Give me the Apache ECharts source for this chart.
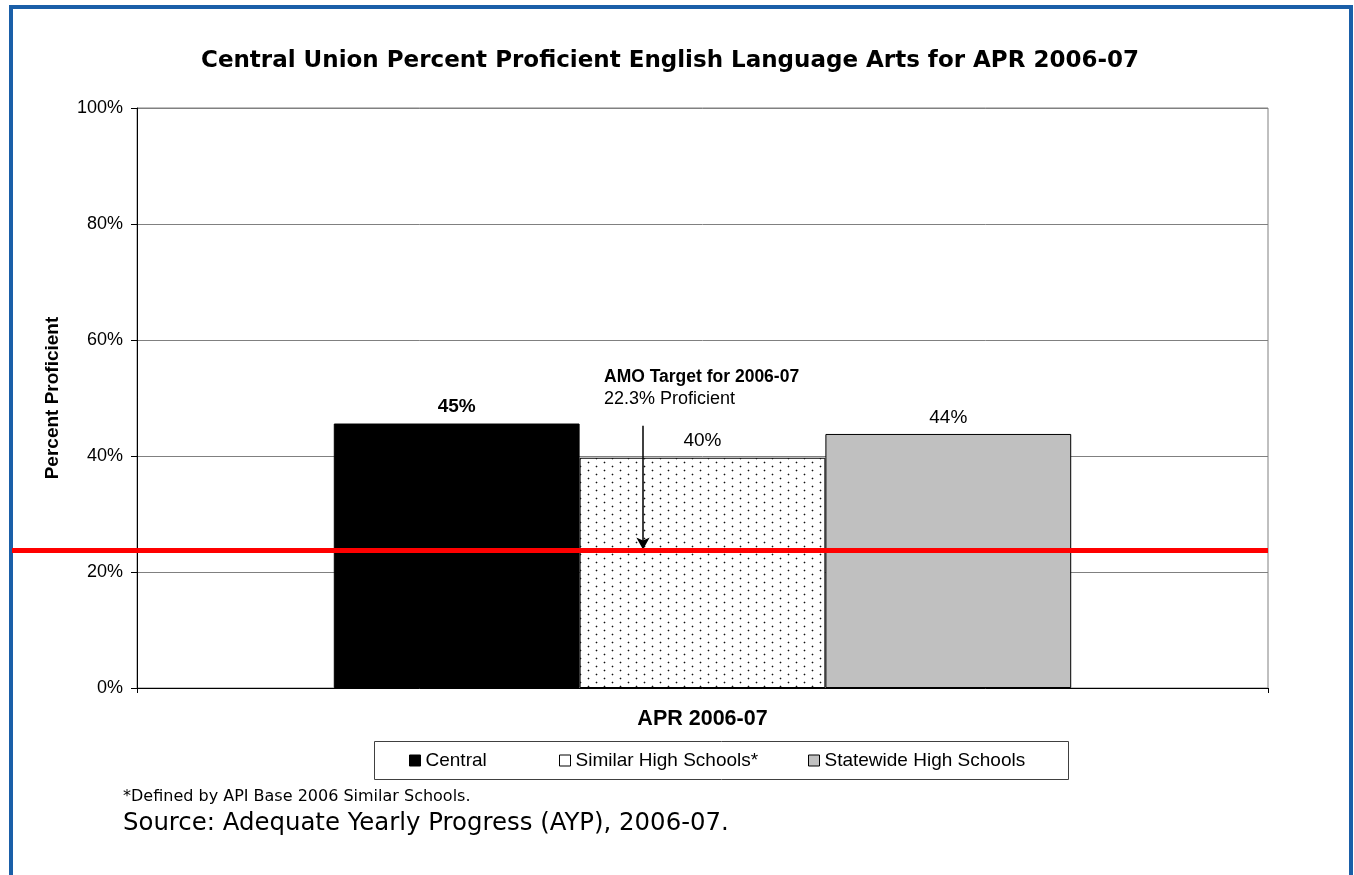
<!DOCTYPE html>
<html>
<head>
<meta charset="utf-8">
<script src="https://cdn.jsdelivr.net/npm/echarts@6/dist/echarts.min.js"></script>
<style>
html,body{margin:0;padding:0;background:#fff;}
#frame{position:absolute;left:9px;top:5px;width:1336px;height:880px;border-left:4px solid #1a5fa8;border-right:4px solid #1a5fa8;border-top:4px solid #1a5fa8;}
#main{position:absolute;left:0;top:0;width:1354px;height:875px;}
</style>
</head>
<body>
<div id="frame"></div>
<div id="main"></div>
<script>
// ---- data ----
const titleText = 'Central Union Percent Proficient English Language Arts for APR 2006-07';
const categories = ['APR 2006-07'];
const seriesNames = ['Central', 'Similar High Schools*', 'Statewide High Schools'];
const seriesValues = [45.6, 39.7, 43.8];
const valueLabels = ['45%', '40%', '44%'];
const yTicks = [0, 20, 40, 60, 80, 100];
const amoLineValue = 23.7;
const amoTitle = 'AMO Target for 2006-07';
const amoSub = '22.3% Proficient';
const amoArrow = { x: 0.4474, from: 45.2, to: 23.9 };
const amoTextPos = { x: 0.4129, y: 51.7 };
const footnote = '*Defined by API Base 2006 Similar Schools.';
const sourceNote = 'Source: Adequate Yearly Progress (AYP), 2006-07.';

// dotted pattern
function dotPattern() {
  const c = document.createElement('canvas');
  c.width = 16; c.height = 8;
  const g = c.getContext('2d');
  g.fillStyle = '#fff'; g.fillRect(0, 0, 16, 8);
  [[4, 2], [12, 6]].forEach(([x, y]) => {
    g.fillStyle = '#b8b8b8';
    g.fillRect(x - 1, y, 3, 1); g.fillRect(x, y - 1, 1, 3);
    g.fillStyle = '#111';
    g.fillRect(x, y, 1, 1);
  });
  return c;
}

const fills = ['#000000', { image: dotPattern(), repeat: 'repeat' }, '#c0c0c0'];
const legendIcons = ['#000000', '#ffffff', '#c0c0c0'];
const legendLefts = [409, 559, 808];
const labelWeights = ['bold', 'normal', 'normal'];

const chart = echarts.init(document.getElementById('main'));
const FONT = 'Liberation Sans, Arial, sans-serif';

const barSeries = seriesNames.map((name, i) => ({
  name: name,
  type: 'bar',
  xAxisIndex: 0, yAxisIndex: 0,
  data: [seriesValues[i]],
  barGap: '0%',
  barCategoryGap: '34.8%',
  itemStyle: { color: fills[i], borderColor: '#000', borderWidth: 1 },
  label: {
    show: true, position: 'top', distance: 7,
    formatter: () => valueLabels[i],
    fontFamily: FONT, fontSize: 19, fontWeight: labelWeights[i], color: '#000'
  },
  emphasis: { disabled: true },
  z: 2
}));

const legends = seriesNames.map((n, i) => ({
  left: legendLefts[i], top: 751, padding: 0,
  data: [{ name: n, itemStyle: { color: legendIcons[i], borderColor: '#000', borderWidth: 1 } }],
  itemWidth: 11, itemHeight: 11, icon: 'rect',
  textStyle: { fontFamily: FONT, fontSize: 19, color: '#000' },
  selectedMode: false
}));

chart.setOption({
  animation: false,
  backgroundColor: 'transparent',
  title: [
    { text: titleText, left: 201, top: 50, padding: 0,
      textStyle: { fontFamily: 'DejaVu Sans', fontWeight: 'bold', fontSize: 23, color: '#000' } },
    { text: footnote, left: 123, top: 789, padding: 0,
      textStyle: { fontFamily: 'DejaVu Sans', fontWeight: 'normal', fontSize: 16, color: '#000' } },
    { text: sourceNote, left: 123, top: 812, padding: 0,
      textStyle: { fontFamily: 'DejaVu Sans', fontWeight: 'normal', fontSize: 24.4, color: '#000' } }
  ],
  legend: legends,
  graphic: [
    { type: 'rect', left: 372, top: 739, shape: { width: 694, height: 38 },
      style: { fill: 'none', stroke: '#404040', lineWidth: 1 }, silent: true, z: 0 }
  ],
  grid: [
    { left: 137, right: 86, top: 108, bottom: 187, show: true, borderColor: '#808080', borderWidth: 1 },
    { left: 12, right: 86, top: 108, bottom: 187, show: false }
  ],
  xAxis: [
    { type: 'category', gridIndex: 0, data: categories,
      axisLine: { lineStyle: { color: '#000', width: 1 } },
      axisTick: { show: true, length: 5, lineStyle: { color: '#000' } },
      axisLabel: { margin: 20, fontFamily: FONT, fontSize: 21.5, fontWeight: 'bold', color: '#000' } },
    { type: 'value', gridIndex: 0, min: 0, max: 1, show: false },
    { type: 'value', gridIndex: 1, min: 0, max: 1, show: false }
  ],
  yAxis: [
    { type: 'value', gridIndex: 0, min: yTicks[0], max: yTicks[yTicks.length - 1], interval: 20,
      name: 'Percent Proficient', nameLocation: 'middle', nameGap: 75, nameRotate: 90,
      nameTextStyle: { fontFamily: FONT, fontSize: 19, fontWeight: 'bold', color: '#000' },
      axisLine: { show: true, lineStyle: { color: '#000', width: 1 } },
      axisTick: { show: true, length: 6, lineStyle: { color: '#000' } },
      axisLabel: { formatter: '{value}%', margin: 14, fontFamily: FONT, fontSize: 18, color: '#000' },
      splitLine: { lineStyle: { color: '#808080', width: 1 } } },
    { type: 'value', gridIndex: 1, min: 0, max: 100, show: false }
  ],
  series: barSeries.concat([
    { type: 'line', xAxisIndex: 2, yAxisIndex: 1,
      data: [[0, amoLineValue], [1, amoLineValue]],
      symbol: 'none', lineStyle: { color: '#ff0000', width: 5 }, z: 5, silent: true },
    { type: 'scatter', xAxisIndex: 1, yAxisIndex: 0,
      data: [[amoTextPos.x, amoTextPos.y]], symbolSize: 0, silent: true, z: 6,
      itemStyle: { opacity: 1 },
      label: { show: true, opacity: 1, position: [0, 0], align: 'left', verticalAlign: 'middle',
        formatter: '{b|' + amoTitle + '}\n{n|' + amoSub + '}',
        rich: {
          b: { fontFamily: FONT, fontSize: 17.5, fontWeight: 'bold', color: '#000', lineHeight: 21 },
          n: { fontFamily: FONT, fontSize: 18, color: '#000', lineHeight: 21 }
        } },
      markLine: {
        silent: true, symbol: ['none', 'arrow'], symbolSize: [10, 12],
        label: { show: false },
        lineStyle: { color: '#000', width: 1.5, type: 'solid', opacity: 1 },
        data: [[{ coord: [amoArrow.x, amoArrow.from] }, { coord: [amoArrow.x, amoArrow.to] }]]
      } }
  ])
});
</script>
</body>
</html>
